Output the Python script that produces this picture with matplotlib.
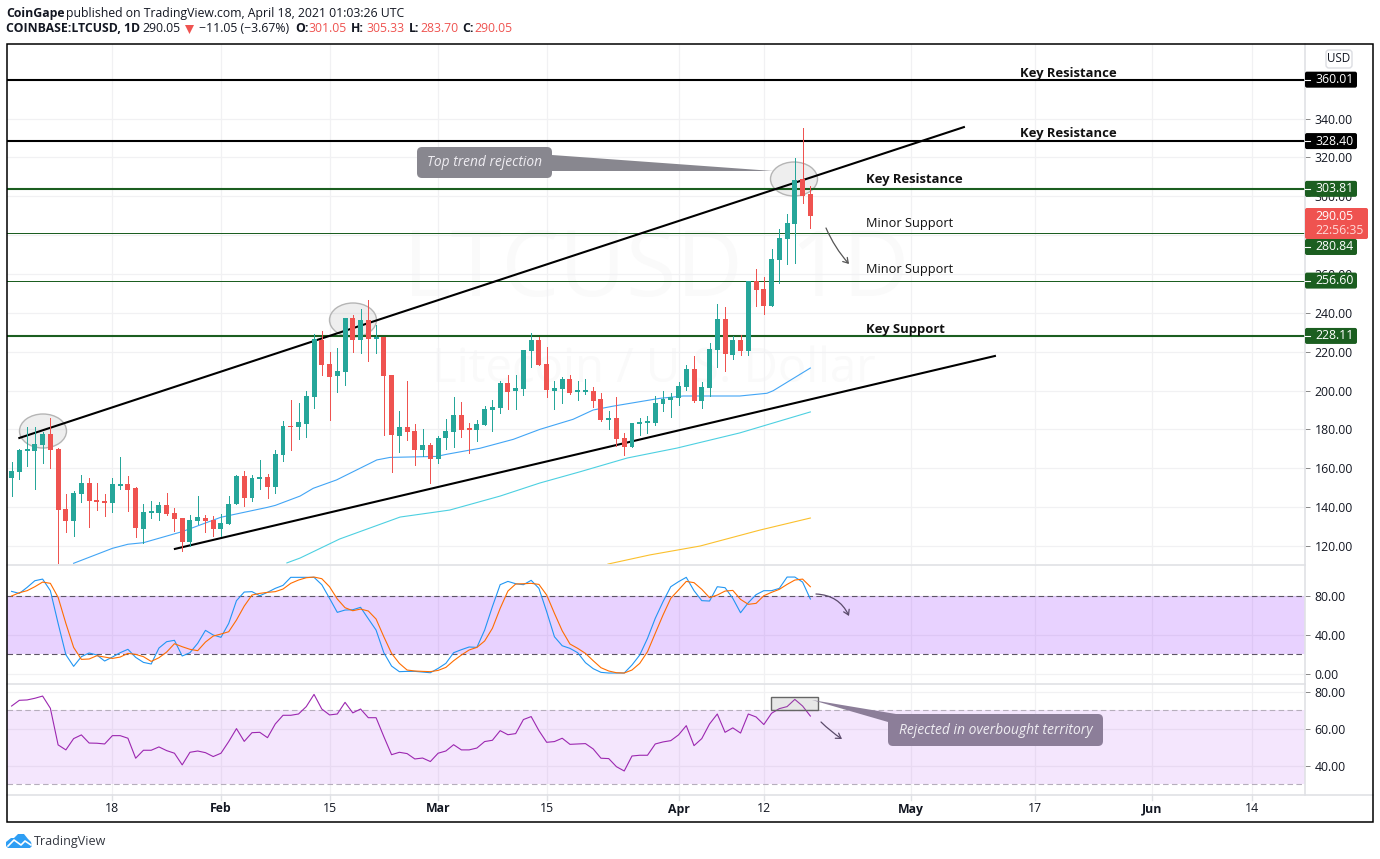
import numpy as np
import matplotlib
matplotlib.use("Agg")
import matplotlib.pyplot as plt
from matplotlib.patches import Rectangle, Ellipse, Polygon, FancyBboxPatch, FancyArrowPatch
from matplotlib.lines import Line2D
from matplotlib.transforms import Affine2D

plt.rcParams['font.family'] = ['Open Sans', 'DejaVu Sans']

W, H = 1380, 859

# one candle per day, first one is 13 days before Jan 18
opens = [155.2, 158.3, 168.9, 169.1, 172.2, 177.6, 169.9, 139.0, 133.0, 146.9,
         152.4, 143.5, 143.0, 142.3, 151.0, 151.7, 149.7, 128.9, 137.2, 137.2,
         140.9, 136.8, 134.2, 122.2, 132.9, 134.2, 133.4, 128.9, 131.5, 141.8,
         155.9, 144.9, 154.7, 155.3, 150.5, 167.0, 181.8, 181.4, 183.0, 196.9,
         226.0, 213.7, 207.5, 209.7, 237.3, 226.2, 236.3, 226.5, 227.6, 207.8,
         176.8, 181.2, 179.2, 169.4, 172.0, 164.8, 175.6, 178.7, 187.4, 180.2,
         179.7, 182.3, 190.0, 191.0, 203.9, 199.8, 200.8, 220.4, 226.0, 213.7,
         199.8, 201.0, 205.8, 199.4, 199.3, 199.8, 195.5, 184.8, 185.7, 175.6,
         171.1, 183.0, 183.3, 183.5, 193.1, 195.1, 196.3, 202.0, 210.9, 194.8,
         201.5, 221.0, 236.7, 218.5, 226.0, 220.4, 256.2, 252.3, 243.5, 267.2,
         278.0, 285.7, 308.9, 301.05]
highs = [163.1, 169.9, 181.2, 181.2, 178.8, 185.7, 170.3, 146.8, 148.3, 156.5,
         155.0, 152.4, 146.8, 155.0, 165.6, 155.9, 150.4, 141.4, 143.2, 142.6,
         147.3, 139.6, 134.6, 135.8, 145.6, 135.8, 135.6, 136.3, 145.6, 156.5,
         158.6, 156.4, 164.3, 157.0, 169.4, 184.2, 195.1, 193.6, 199.8, 229.1,
         230.7, 219.8, 221.7, 237.3, 238.7, 241.8, 246.6, 233.6, 227.7, 208.2,
         189.3, 204.7, 182.8, 180.2, 172.8, 176.8, 185.2, 196.7, 194.1, 183.1,
         184.8, 191.9, 195.1, 204.7, 207.8, 208.2, 220.9, 229.4, 227.7, 222.2,
         204.7, 206.8, 208.0, 204.9, 205.8, 201.8, 198.6, 189.5, 196.7, 178.3,
         183.5, 185.7, 186.9, 197.2, 199.8, 198.9, 204.6, 213.0, 217.8, 204.4,
         224.3, 244.5, 242.8, 228.1, 228.6, 256.2, 262.6, 258.3, 272.9, 283.2,
         290.9, 319.5, 335.1, 305.33]
lows = [145.9, 154.5, 161.3, 149.5, 162.9, 160.3, 110.0, 127.4, 125.3, 142.8,
        130.0, 138.7, 135.6, 137.7, 149.5, 138.2, 124.8, 121.7, 134.6, 133.6,
        136.1, 127.9, 117.6, 120.2, 131.5, 127.4, 125.3, 125.3, 131.5, 141.8,
        140.8, 143.3, 149.5, 144.9, 147.4, 163.9, 169.6, 175.2, 176.3, 191.2,
        208.2, 185.0, 199.4, 203.0, 220.0, 219.5, 215.4, 219.3, 177.1, 158.3,
        168.5, 174.6, 161.7, 166.3, 152.6, 162.7, 169.9, 170.8, 176.1, 168.0,
        174.2, 182.3, 179.2, 188.4, 190.5, 190.5, 197.7, 212.1, 213.2, 196.7,
        190.5, 193.4, 198.2, 195.1, 198.2, 191.7, 184.2, 180.4, 171.5, 166.8,
        171.1, 177.1, 178.3, 182.1, 189.7, 186.6, 192.6, 200.3, 194.1, 191.2,
        197.2, 212.3, 210.2, 216.4, 218.3, 218.5, 243.5, 239.4, 243.5, 255.5,
        265.1, 265.7, 296.7, 283.7]
closes = [158.4, 169.4, 169.3, 172.5, 177.5, 169.6, 138.7, 133.0, 147.3, 152.4,
          143.3, 142.8, 142.3, 151.7, 151.7, 149.0, 129.4, 137.3, 137.5, 140.9,
          136.6, 134.1, 122.2, 133.2, 134.8, 132.9, 128.9, 131.7, 141.4, 155.9,
          144.9, 154.8, 155.5, 150.5, 167.3, 181.8, 181.2, 183.6, 197.2, 226.4,
          213.3, 207.1, 209.9, 237.3, 226.2, 236.3, 226.7, 227.7, 207.7, 177.0,
          181.2, 178.7, 169.4, 172.0, 164.8, 175.6, 179.2, 187.4, 179.7, 179.7,
          182.8, 190.5, 191.5, 203.9, 199.4, 201.3, 220.9, 226.0, 213.2, 200.3,
          201.3, 205.8, 198.7, 199.8, 199.8, 194.8, 184.7, 185.7, 175.1, 171.1,
          183.1, 183.8, 183.8, 193.4, 195.5, 196.5, 202.3, 210.9, 194.6, 201.7,
          221.2, 236.7, 219.0, 226.0, 220.4, 256.2, 251.8, 243.5, 267.7, 278.5,
          286.2, 308.4, 300.3, 290.05]

stoch_k = [85.1, 83.0, 89.2, 96.1, 97.8, 85.8, 52.0, 19.6, 7.6, 17.6,
           21.4, 19.3, 13.1, 17.2, 21.7, 25.2, 16.9, 11.7, 10.0, 26.5,
           33.1, 34.5, 18.3, 21.7, 31.4, 44.8, 40.0, 37.6, 52.0, 75.5,
           84.4, 84.8, 80.6, 84.1, 88.2, 91.3, 99.6, 99.6, 99.6, 99.6,
           92.0, 77.9, 63.4, 65.8, 66.1, 68.6, 56.8, 45.1, 21.7, 7.9,
           2.1, 2.4, 2.4, 1.7, 1.0, 5.5, 10.7, 21.7, 24.8, 27.6,
           27.2, 45.1, 69.3, 92.0, 95.4, 93.0, 92.0, 96.5, 88.2, 64.1,
           38.2, 28.9, 26.2, 21.7, 11.4, 5.2, 1.4, 0.7, 0.7, 0.7,
           9.0, 19.3, 36.5, 57.2, 74.4, 89.9, 95.1, 99.6, 85.8, 75.5,
           75.1, 89.9, 88.9, 77.9, 63.0, 73.4, 81.7, 85.8, 85.8, 88.2,
           99.9, 99.9, 94.7, 77.2]
stoch_d = [80.3, 83.7, 85.8, 89.9, 94.7, 93.4, 78.9, 52.0, 27.2, 14.8,
           15.2, 18.6, 17.2, 15.8, 17.2, 21.0, 20.0, 17.6, 12.7, 16.5,
           22.4, 31.0, 27.9, 25.2, 23.8, 32.7, 38.9, 41.0, 43.4, 55.5,
           69.9, 81.3, 83.0, 84.1, 84.8, 87.5, 93.4, 96.8, 99.2, 99.9,
           98.2, 89.9, 77.2, 68.2, 65.1, 66.8, 64.8, 56.5, 38.2, 21.0,
           10.7, 3.8, 2.8, 2.4, 2.1, 3.4, 6.5, 13.4, 19.3, 24.5,
           27.2, 33.8, 46.9, 67.5, 85.4, 92.7, 93.0, 93.4, 92.3, 81.3,
           62.4, 44.4, 30.7, 26.2, 21.0, 13.4, 6.2, 2.8, 1.0, 0.7,
           3.8, 10.7, 22.7, 41.7, 60.6, 77.9, 86.5, 95.4, 94.1, 87.2,
           78.6, 81.3, 85.4, 86.1, 76.8, 71.7, 72.7, 80.6, 84.1, 87.2,
           92.3, 96.8, 97.8, 89.9]
rsi = [72.3, 75.4, 75.6, 76.5, 77.7, 71.1, 51.3, 48.6, 54.7, 56.7,
       52.3, 52.2, 51.8, 56.3, 56.3, 54.9, 44.1, 48.4, 48.4, 50.2,
       48.2, 46.8, 40.5, 47.3, 48.0, 47.1, 45.0, 46.8, 53.1, 60.1,
       53.2, 57.9, 58.1, 55.2, 62.6, 67.3, 67.3, 68.0, 72.0, 78.6,
       70.7, 67.5, 68.0, 74.3, 68.6, 70.7, 66.0, 66.0, 55.8, 46.0,
       47.3, 46.6, 43.7, 44.2, 42.3, 46.8, 48.0, 51.4, 48.6, 48.6,
       49.6, 53.1, 53.8, 59.0, 56.8, 57.4, 65.0, 66.6, 59.0, 52.7,
       53.1, 54.9, 51.6, 51.8, 52.0, 49.1, 44.1, 43.9, 39.5, 37.2,
       45.3, 45.7, 45.7, 51.8, 52.9, 53.6, 56.7, 61.7, 50.9, 54.7,
       62.6, 68.0, 58.1, 60.5, 57.7, 68.0, 66.4, 62.3, 68.4, 70.9,
       72.0, 75.9, 72.3, 66.9]

# moving averages, days after Jan 18 and price
ma_blue_x = [-5, 0, 2, 4, 9, 14, 20, 21, 24.2, 25.9, 28.9, 34.1, 35.8, 41.8, 43.1, 47.4,
             51.7, 55.1, 59.4, 62, 64.6, 70.6, 73.6, 80.9, 84.4, 85.2, 90]
ma_blue_y = [111.1, 118.8, 120.9, 121.7, 127.4, 134.8, 139.9, 140.9, 145.7, 149.7, 154.0,
             164.3, 165.6, 166.1, 167.2, 170.3, 174.9, 180.0, 185.2, 190.0, 192.0, 196.0,
             197.2, 197.2, 198.6, 199.9, 211.6]
ma_cyan_x = [22.5, 24.2, 29.3, 37.1, 43.5, 50, 55.1, 60.3, 66.4, 72.8, 80.9, 90]
ma_cyan_y = [111.3, 113.8, 123.6, 134.9, 138.5, 145.7, 152.4, 158.2, 165.3, 170.4, 178.2, 189.0]
ma_gold_x = [63.9, 69.3, 75.8, 83.5, 90]
ma_gold_y = [110.7, 115.4, 120.0, 128.2, 134.4]

price_ticks = [120, 140, 160, 180, 200, 220, 240, 260, 280, 300, 320, 340]
stoch_ticks = [0, 40, 80]
rsi_ticks = [40, 60, 80]
stoch_band = [20, 80]
rsi_band = [30, 70]

time_ticks = [0, 14, 28, 42, 56, 73, 84, 103, 119, 134, 147]
time_labels = ['18', 'Feb', '15', 'Mar', '15', 'Apr', '12', 'May', '17', 'Jun', '14']

level_values = [360.01, 328.40, 303.81, 280.84, 256.60, 228.11]
level_colors = ['#000000', '#000000', '#1b5e20', '#1b5e20', '#1b5e20', '#1b5e20']
level_widths = [1.5, 1.5, 1.5, 0.7, 0.7, 1.5]
badge_shift = [0, 0, 0, 13.5, 0, 0]  # the 280.84 label got pushed down by the red one

top_trend_x, top_trend_y = [-12, 109.8], [175.6, 335.6]
low_trend_x, low_trend_y = [8.06, 113.8], [118.5, 217.8]

GREEN = '#26a69a'
RED = '#ef5350'
TEXT = '#131722'
GRID = '#f1f1f3'
SEP = '#e0e1e5'
LEFT, RIGHT = 7, 1305

# same coords as the screenshot, y going down
px = Affine2D().scale(1, -1).translate(0, H)


def make_axes(fig, top, bottom, ymin, ymax, ticks):
    ax = fig.add_axes([LEFT / W, 1 - bottom / H, (RIGHT - LEFT) / W, (bottom - top) / H])
    ax.set_zorder(1)
    ax.patch.set_alpha(0)
    ax.set_xlim((LEFT - 112.4) / 7.755, (RIGHT - 112.4) / 7.755)
    ax.set_ylim(ymin, ymax)
    for s in ax.spines.values():
        s.set_visible(False)
    ax.yaxis.tick_right()
    ax.set_yticks(ticks)
    ax.set_yticklabels(['%.2f' % t for t in ticks])
    ax.tick_params(axis='y', length=3.6, width=0.7, color='#888888', pad=3.4,
                   labelsize=8.8, labelcolor=TEXT)
    ax.tick_params(axis='x', length=0, labelbottom=False)
    ax.set_xticks(time_ticks)
    ax.grid(True, color=GRID, lw=0.9)
    ax.set_axisbelow(True)
    return ax


def level_y(ax, value):
    return H - ax.transData.transform((0, value))[1]


def price_badge(fig, y, label, color):
    fig.add_artist(FancyBboxPatch((RIGHT + 1, y - 7), 50, 14, boxstyle='round,pad=1,rounding_size=2',
                                  fc=color, ec='none', transform=px, zorder=5))
    fig.add_artist(Line2D([RIGHT, RIGHT + 5], [y, y], color='white', lw=0.8, transform=px, zorder=6))
    fig.text(1315 / W, 1 - y / H, label, color='white', fontsize=8.8, va='center', ha='left', zorder=6)


def callout(fig, x0, y0, x1, y1, color, label, fontsize):
    fig.add_artist(FancyBboxPatch((x0 + 5, y0 + 5), x1 - x0 - 10, y1 - y0 - 10,
                                  boxstyle='round,pad=5,rounding_size=5', fc=color, ec='none',
                                  transform=px, zorder=4))
    fig.text((x0 + x1) / 2 / W, 1 - (y0 + y1) / 2 / H, label, color='#efedf2', style='italic',
             fontsize=fontsize, ha='center', va='center', zorder=5)


def hand_arrow(fig, a, b, rad, color):
    fig.add_artist(FancyArrowPatch(a, b, transform=px, arrowstyle='->,head_length=3.5,head_width=2.2',
                                   connectionstyle='arc3,rad=%.2f' % rad, color=color, lw=0.9,
                                   shrinkA=0, shrinkB=0, zorder=4))


fig = plt.figure(figsize=(W / 100, H / 100), dpi=100)

# watermark goes under the axes
fig.text(656 / W, 1 - 272 / H, 'LTCUSD, 1D', color='#fafafa', fontsize=66, ha='center', va='center', zorder=0.5)
fig.text(654 / W, 1 - 369 / H, 'Litecoin / U.S. Dollar', color='#fafafa', fontsize=34,
         ha='center', va='center', zorder=0.5)

ax = make_axes(fig, 44, 564, 120 + (546 - 564) / 1.943, 120 + (546 - 44) / 1.943, price_ticks)
ax2 = make_axes(fig, 565, 683, (673.7 - 683) / 0.9675, (673.7 - 565) / 0.9675, stoch_ticks)
ax3 = make_axes(fig, 684, 795, 30 - (795 - 784.3) / 1.85, 70 + (710.3 - 684) / 1.85, rsi_ticks)

days = np.arange(len(closes)) - 13
o = np.array(opens)
c = np.array(closes)
colors = [GREEN if c[i] >= o[i] else RED for i in range(len(c))]

ax.plot(ma_blue_x, ma_blue_y, color='#42a5f5', lw=0.8, zorder=2)
ax.plot(ma_cyan_x, ma_cyan_y, color='#4dd0e1', lw=0.8, zorder=2)
ax.plot(ma_gold_x, ma_gold_y, color='#fbc02d', lw=0.8, zorder=2)

for e in [(43, 431), (353, 320), (794, 179)]:
    ax.add_patch(Ellipse(e, 47, 34, fc='#8f8f8f', ec='none', alpha=0.15, transform=px, zorder=2))
    ax.add_patch(Ellipse(e, 47, 34, fc='none', ec='#b5b5b5', lw=1, transform=px, zorder=2))

for v, col, lw in zip(level_values, level_colors, level_widths):
    ax.axhline(v, color=col, lw=lw, antialiased=lw > 1, zorder=3)
ax.plot(top_trend_x, top_trend_y, color='#000000', lw=1.5, zorder=3)
ax.plot(low_trend_x, low_trend_y, color='#000000', lw=1.5, zorder=3)

# no antialias here, otherwise the thin wicks come out washed
ax.vlines(days, lows, highs, colors=colors, lw=0.6, antialiased=False, zorder=4)
ax.bar(days, np.maximum(np.abs(c - o), 0.8), bottom=np.minimum(o, c), width=0.64, color=colors, zorder=4)

# stoch rsi pane
ax2.axhspan(stoch_band[0], stoch_band[1], fc='#8f1fff', alpha=0.2, lw=0, zorder=1)
for b in stoch_band:
    ax2.axhline(b, color='#5d5566', lw=0.8, dashes=(5, 3), zorder=2)
ax2.plot(days, stoch_k, color='#2196f3', lw=0.8, zorder=3)
ax2.plot(days, stoch_d, color='#ff6d00', lw=0.8, zorder=3)

# rsi pane
ax3.axhspan(rsi_band[0], rsi_band[1], fc='#a020f0', alpha=0.11, lw=0, zorder=1)
for b in rsi_band:
    ax3.axhline(b, color='#b6aebc', lw=0.8, dashes=(5, 3), zorder=2)
ax3.plot(days, rsi, color='#9c27b0', lw=0.8, zorder=3)

# frame and separators
fig.add_artist(Line2D([LEFT, RIGHT], [564.5, 564.5], color=SEP, lw=1.2, transform=px, zorder=3))
fig.add_artist(Line2D([LEFT, RIGHT], [683.5, 683.5], color=SEP, lw=1.2, transform=px, zorder=3))
fig.add_artist(Line2D([LEFT, 1373], [795, 795], color=SEP, lw=1.2, transform=px, zorder=3))
fig.add_artist(Line2D([RIGHT, RIGHT], [44, 795], color=SEP, lw=1.2, transform=px, zorder=3))
fig.add_artist(Rectangle((6.5, 43.5), 1366.5, 778.5, fc='none', ec='black', lw=1.1, transform=px, zorder=8))

# time axis
for t, lab in zip(time_ticks, time_labels):
    x = 112.4 + t * 7.755
    fig.add_artist(Line2D([x, x], [795, 800], color=SEP, lw=1, transform=px, zorder=3))
    fig.text(x / W, 1 - 809 / H, lab, color=TEXT, fontsize=8.8, ha='center', va='center',
             weight='bold' if lab.isalpha() else 'normal')

# usd box
fig.add_artist(FancyBboxPatch((1329, 53), 20, 12, boxstyle='round,pad=3,rounding_size=3', fc='white',
                              ec='#dcdde2', lw=1, transform=px, zorder=5))
fig.text(1339 / W, 1 - 59 / H, 'USD', color=TEXT, fontsize=8.4, ha='center', va='center', zorder=6)

# price badges
for v, col, shift in zip(level_values[::-1], level_colors[::-1], badge_shift[::-1]):
    price_badge(fig, level_y(ax, v) + shift, '%.2f' % v, col)
fig.add_artist(FancyBboxPatch((1306, 209), 61, 29, boxstyle='round,pad=1,rounding_size=2', fc=RED, ec='none',
                              transform=px, zorder=7))
fig.text(1315 / W, 1 - 217 / H, '290.05', color='white', fontsize=8.8, va='center', zorder=8)
fig.text(1315 / W, 1 - 231 / H, '22:56:35', color='#ffd9d7', fontsize=8.8, va='center', zorder=8)

# text on the chart
for x, y, s, w, fs in [(1020, 73, 'Key Resistance', 'bold', 9.4), (1020, 133, 'Key Resistance', 'bold', 9.4),
                       (866, 180, 'Key Resistance', 'bold', 9.4), (866, 224, 'Minor Support', 'normal', 9.2),
                       (866, 270, 'Minor Support', 'normal', 9.2), (866, 329, 'Key Support', 'bold', 9.4)]:
    fig.text(x / W, 1 - y / H, s, color='#111111', fontsize=fs, weight=w, ha='left', va='center', zorder=5)

fig.add_artist(Polygon([(552, 155), (773, 171), (552, 171)], fc='#88878f', ec='none', transform=px, zorder=4))
callout(fig, 417, 147, 552, 178, '#88878f', 'Top trend rejection', 9.9)

fig.add_artist(Rectangle((771, 697), 47, 13, fc='#8a8a8a', alpha=0.2, ec='none', transform=px, zorder=2))
fig.add_artist(Rectangle((771, 697), 47, 13, fc='none', ec='#666666', lw=1, transform=px, zorder=4))
fig.add_artist(Polygon([(812, 700), (896, 714), (888, 722)], fc='#8c7e99', ec='none', transform=px, zorder=4))
callout(fig, 888, 714, 1103, 746, '#8c7e99', 'Rejected in overbought territory', 10)

hand_arrow(fig, (826, 228), (849, 264), 0.08, '#555555')
hand_arrow(fig, (816, 594), (849, 616), -0.3, '#5a4a6a')
hand_arrow(fig, (821, 722), (842, 739), 0.05, '#5a4a6a')

# header, two lines built from pieces
header = [(6, 13, 'CoinGape', TEXT, 'bold'),
          (66, 13, 'published on TradingView.com, April 18, 2021 01:03:26 UTC', TEXT, 'normal'),
          (6, 29, 'COINBASE:LTCUSD, 1D', TEXT, 'bold'),
          (142, 29, '290.05', TEXT, 'normal'),
          (199, 29, '\u221211.05 (\u22123.67%)', TEXT, 'normal'),
          (295, 29, 'O:', TEXT, 'bold'), (308, 29, '301.05', RED, 'normal'),
          (351, 29, 'H:', TEXT, 'bold'), (366, 29, '305.33', RED, 'normal'),
          (409, 29, 'L:', TEXT, 'bold'), (420, 29, '283.70', RED, 'normal'),
          (462, 29, 'C:', TEXT, 'bold'), (474.5, 29, '290.05', RED, 'normal')]
for x, y, s, col, w in header:
    fig.text(x / W, 1 - y / H, s, color=col, fontsize=8.8, weight=w, ha='left', va='center')
fig.add_artist(Polygon([(185, 25), (194, 25), (189.5, 34)], fc=RED, ec='none', transform=px))

# tradingview logo
fig.add_artist(Polygon([(6, 846), (6, 842), (11, 838), (14, 838), (18, 834), (24, 834), (28, 839),
                        (31, 842), (32, 846), (30, 848), (8, 848)], fc='#2e9ef4', ec='none', transform=px))
fig.add_artist(Line2D([8, 14, 21, 25, 31], [846, 840, 845, 841, 845], color='white', lw=1.2, transform=px))
fig.text(34 / W, 1 - 841 / H, 'TradingView', color='#333740', fontsize=9.0, ha='left', va='center')

fig.savefig('out.png', dpi=100)
